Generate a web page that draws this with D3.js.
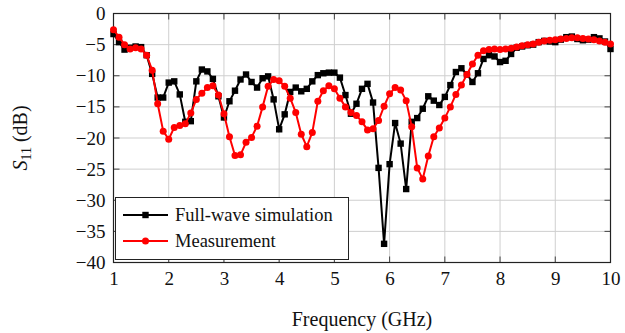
<!DOCTYPE html>
<html>
<head>
<meta charset="utf-8">
<script src="https://cdn.jsdelivr.net/npm/d3@7"></script>
<style>
  html, body { margin: 0; padding: 0; background: #fff; }
  svg { display: block; }
  svg text { font-family: "Liberation Serif", "DejaVu Serif", serif; }
</style>
</head>
<body>
<svg id="chart" width="625" height="333"></svg>
<script>
// Frequency sample points (GHz)
const freq = [
  1.0, 1.1, 1.2, 1.3, 1.4, 1.5, 1.6, 1.7, 1.8, 1.9,
  2.0, 2.1, 2.2, 2.3, 2.4, 2.5, 2.6, 2.7, 2.8, 2.9,
  3.0, 3.1, 3.2, 3.3, 3.4, 3.5, 3.6, 3.7, 3.8, 3.9,
  4.0, 4.1, 4.2, 4.3, 4.4, 4.5, 4.6, 4.7, 4.8, 4.9,
  5.0, 5.1, 5.2, 5.3, 5.4, 5.5, 5.6, 5.7, 5.8, 5.9,
  6.0, 6.1, 6.2, 6.3, 6.4, 6.5, 6.6, 6.7, 6.8, 6.9,
  7.0, 7.1, 7.2, 7.3, 7.4, 7.5, 7.6, 7.7, 7.8, 7.9,
  8.0, 8.1, 8.2, 8.3, 8.4, 8.5, 8.6, 8.7, 8.8, 8.9,
  9.0, 9.1, 9.2, 9.3, 9.4, 9.5, 9.6, 9.7, 9.8, 9.9,
  10.0
];

// S11 (dB), full-wave simulation
const simulation = [
  -3.3, -4.6, -5.8, -5.5, -5.3, -5.4, -6.7, -9.7, -13.5, -13.5,
  -11.1, -10.9, -13.0, -17.4, -17.3, -10.9, -9.0, -9.3, -10.5, -13.3,
  -16.7, -14.1, -12.4, -10.6, -9.8, -11.0, -11.9, -10.4, -10.1, -13.8,
  -18.6, -16.2, -12.6, -11.9, -12.5, -12.1, -10.9, -9.9, -9.6, -9.5,
  -9.5, -10.3, -13.1, -16.1, -14.5, -12.1, -11.3, -14.3, -24.8, -37.0,
  -24.2, -17.6, -20.9, -28.2, -17.4, -16.8, -15.3, -13.3, -14.0, -14.7,
  -13.4, -11.5, -9.4, -8.8, -9.8, -11.0, -9.6, -7.3, -6.7, -6.9,
  -7.8, -7.6, -6.5, -5.5, -5.3, -5.1, -5.0, -4.6, -4.4, -4.5,
  -4.6, -4.2, -3.8, -3.7, -4.1, -4.3, -4.2, -3.8, -4.0, -4.5,
  -5.7
];

// S11 (dB), measurement
const measurement = [
  -2.6, -3.8, -5.0, -5.7, -5.5, -5.7, -6.7, -9.1, -14.5, -18.9,
  -20.2, -18.3, -18.0, -17.7, -16.0, -13.8, -12.8, -11.9, -11.6, -13.1,
  -16.1, -19.8, -22.8, -22.7, -20.7, -19.9, -18.1, -15.0, -11.7, -10.6,
  -10.8, -11.7, -13.6, -15.9, -19.4, -21.4, -19.1, -14.1, -12.4, -11.6,
  -12.1, -13.6, -15.0, -15.9, -16.4, -17.4, -18.7, -18.5, -17.2, -14.9,
  -12.9, -11.9, -12.3, -14.0, -18.2, -24.8, -26.6, -22.9, -19.8, -18.4,
  -16.8, -15.0, -13.0, -11.5, -9.8, -8.1, -6.7, -6.0, -5.8, -5.7,
  -5.8, -5.7, -5.6, -5.4, -5.2, -5.0, -4.9, -4.6, -4.4, -4.3,
  -4.2, -4.1, -4.0, -3.9, -3.9, -4.0, -4.1, -4.2, -4.4, -4.6,
  -4.9
];

const xTicks = [1, 2, 3, 4, 5, 6, 7, 8, 9, 10];
const yTicks = [0, -5, -10, -15, -20, -25, -30, -35, -40];
const seriesNames = ["Full-wave simulation", "Measurement"];

const FONT = "Liberation Serif";
const svg = d3.select("#chart");
const plotL = 113.5, plotR = 610.5, plotT = 13.5, plotB = 262.5;

const x = d3.scaleLinear().domain([1, 10]).range([plotL, plotR]);
const y = d3.scaleLinear().domain([-40, 0]).range([plotB, plotT]);

// grid
const grid = svg.append("g").attr("stroke", "#cfcfcf").attr("stroke-width", 1);
grid.selectAll(".gx").data(xTicks).join("line")
  .attr("x1", d => x(d)).attr("x2", d => x(d))
  .attr("y1", plotT).attr("y2", plotB);
grid.selectAll(".gy").data(yTicks).join("line")
  .attr("y1", d => y(d)).attr("y2", d => y(d))
  .attr("x1", plotL).attr("x2", plotR);

// inward ticks on all four sides
const tl = 6;
const ticks = svg.append("g").attr("stroke", "#444").attr("stroke-width", 1);
xTicks.forEach(d => {
  ticks.append("line").attr("x1", x(d)).attr("x2", x(d)).attr("y1", plotB).attr("y2", plotB - tl);
  ticks.append("line").attr("x1", x(d)).attr("x2", x(d)).attr("y1", plotT).attr("y2", plotT + tl);
});
yTicks.forEach(d => {
  ticks.append("line").attr("y1", y(d)).attr("y2", y(d)).attr("x1", plotL).attr("x2", plotL + tl);
  ticks.append("line").attr("y1", y(d)).attr("y2", y(d)).attr("x1", plotR).attr("x2", plotR - tl);
});

// tick labels via d3 axes
const fmt = d3.format("d");
const xAxis = svg.append("g").attr("transform", `translate(0,${plotB})`)
  .call(d3.axisBottom(x).tickValues(xTicks).tickFormat(fmt).tickSize(0).tickPadding(9));
const yAxis = svg.append("g").attr("transform", `translate(${plotL},0)`)
  .call(d3.axisLeft(y).tickValues(yTicks).tickFormat(fmt).tickSize(0).tickPadding(8));
[xAxis, yAxis].forEach(a => {
  a.attr("font-family", FONT);
  a.select(".domain").remove();
  a.selectAll("text").attr("font-size", 19).attr("fill", "#111").attr("font-family", FONT);
});

// frame
svg.append("rect")
  .attr("x", plotL).attr("y", plotT)
  .attr("width", plotR - plotL).attr("height", plotB - plotT)
  .attr("fill", "none").attr("stroke", "#222").attr("stroke-width", 1.2);

// series
const simData = freq.map((f, i) => [f, simulation[i]]);
const measData = freq.map((f, i) => [f, measurement[i]]);
const line = d3.line().x(d => x(d[0])).y(d => y(d[1]));

const sq = 6.4;
svg.append("path").datum(simData)
  .attr("d", line).attr("fill", "none").attr("stroke", "#000")
  .attr("stroke-width", 2).attr("stroke-linejoin", "miter");
svg.append("g").selectAll("rect").data(simData).join("rect")
  .attr("x", d => x(d[0]) - sq / 2).attr("y", d => y(d[1]) - sq / 2)
  .attr("width", sq).attr("height", sq).attr("fill", "#000");

svg.append("path").datum(measData)
  .attr("d", line).attr("fill", "none").attr("stroke", "#ff0000")
  .attr("stroke-width", 2).attr("stroke-linejoin", "round");
svg.append("g").selectAll("circle").data(measData).join("circle")
  .attr("cx", d => x(d[0])).attr("cy", d => y(d[1]))
  .attr("r", 3.5).attr("fill", "#ff0000");

// legend
const lg = svg.append("g");
lg.append("rect").attr("x", 115.5).attr("y", 197.5).attr("width", 233).attr("height", 62)
  .attr("fill", "#fff").attr("stroke", "#222").attr("stroke-width", 1);
const rows = [
  { name: seriesNames[0], color: "#000", shape: "square", cy: 215 },
  { name: seriesNames[1], color: "#ff0000", shape: "circle", cy: 241 }
];
rows.forEach(r => {
  lg.append("line").attr("x1", 123).attr("x2", 168).attr("y1", r.cy).attr("y2", r.cy)
    .attr("stroke", r.color).attr("stroke-width", 2);
  if (r.shape === "square") {
    lg.append("rect").attr("x", 145.5 - sq / 2).attr("y", r.cy - sq / 2)
      .attr("width", sq).attr("height", sq).attr("fill", r.color);
  } else {
    lg.append("circle").attr("cx", 145.5).attr("cy", r.cy).attr("r", 3.5).attr("fill", r.color);
  }
  lg.append("text").attr("x", 175).attr("y", r.cy + 6)
    .attr("font-family", FONT).attr("font-size", 18.5).attr("fill", "#111").text(r.name);
});

// axis titles
svg.append("text").attr("x", (plotL + plotR) / 2).attr("y", 326)
  .attr("text-anchor", "middle").attr("font-family", FONT)
  .attr("font-size", 20).attr("fill", "#111")
  .text("Frequency (GHz)");

const yl = svg.append("text")
  .attr("transform", "translate(27,138) rotate(-90)")
  .attr("text-anchor", "middle").attr("font-family", FONT)
  .attr("font-size", 20).attr("fill", "#111");
yl.append("tspan").attr("font-style", "italic").text("S");
yl.append("tspan").attr("font-size", 14).attr("dy", 4).text("11");
yl.append("tspan").attr("dy", -4).text(" (dB)");
</script>
</body>
</html>
